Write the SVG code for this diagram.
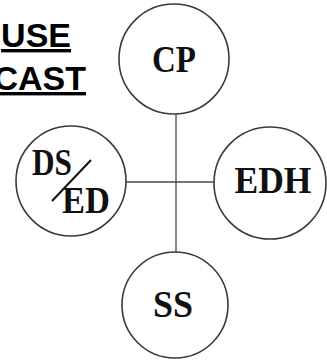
<svg xmlns="http://www.w3.org/2000/svg" width="327" height="361" viewBox="0 0 327 361">
<style>
.node{fill:#fff;stroke:#3a3a3a;stroke-width:1.6}
.lbl{font-family:"Liberation Serif","Times New Roman",serif;font-weight:bold;font-size:37px;fill:#111;text-anchor:middle}
.title{font-family:"Liberation Sans",Arial,sans-serif;font-weight:bold;font-size:34px;fill:#000;text-anchor:end;text-decoration:underline}
.conn{stroke:#4a4a4a;stroke-width:1.3;fill:none}
</style>
<rect width="327" height="361" fill="#fff"/>
<g id="title">
<text class="title" x="71" y="47">USE</text>
<text class="title" x="86" y="90">CAST</text>
</g>
<g id="connectors">
<line class="conn" x1="176" y1="113" x2="176" y2="252"/>
<line class="conn" x1="126" y1="182" x2="214" y2="182"/>
</g>
<g id="node-cp">
<circle class="node" cx="174" cy="59" r="55"/>
<text class="lbl" x="174" y="72" textLength="44" lengthAdjust="spacingAndGlyphs">CP</text>
</g>
<g id="node-dsed">
<circle class="node" cx="71" cy="181" r="55"/>
<text class="lbl" x="52" y="175" textLength="40" lengthAdjust="spacingAndGlyphs">DS</text>
<text class="lbl" x="86" y="213" textLength="48" lengthAdjust="spacingAndGlyphs">ED</text>
<line x1="52" y1="201" x2="91" y2="160" stroke="#111" stroke-width="2"/>
</g>
<g id="node-edh">
<circle class="node" cx="270" cy="183" r="56"/>
<text class="lbl" x="273" y="193" textLength="77" lengthAdjust="spacingAndGlyphs">EDH</text>
</g>
<g id="node-ss">
<circle class="node" cx="175" cy="305" r="53"/>
<text class="lbl" x="173" y="317" textLength="40" lengthAdjust="spacingAndGlyphs">SS</text>
</g>
</svg>
